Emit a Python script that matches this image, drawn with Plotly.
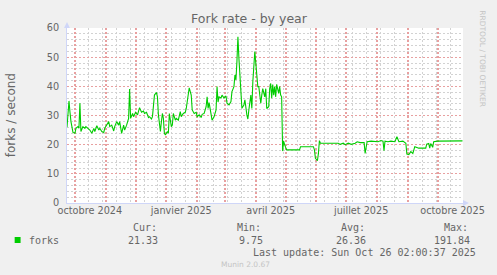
import datetime as dt
import plotly.graph_objects as go

# ---- data -------------------------------------------------------------
base_date = dt.datetime(2024, 9, 23)
range_start = "2024-09-23 00:00"
range_end = "2025-10-26 12:00"

day_offset = [
    0, 1, 2, 3, 4, 6, 8, 9, 11, 12, 13, 14, 16, 18, 19, 21, 23, 25, 27, 28,
    30, 32, 33, 35, 37, 38, 40, 42, 43, 45, 47, 48, 50, 52, 53, 55, 57, 58, 60, 62,
    63, 64, 66, 67, 69, 71, 73, 75, 77, 78, 80, 82, 83, 85, 86, 88, 90, 91, 92, 94,
    95, 96, 97, 98, 99, 101, 102, 103, 105, 106, 107, 109, 110, 112, 114, 115, 117, 119, 120, 122,
    123, 125, 126, 128, 130, 131, 133, 135, 136, 138, 140, 141, 142, 143, 145, 146, 148, 150, 151, 152,
    153, 155, 156, 158, 160, 161, 163, 165, 166, 168, 169, 170, 171, 172, 173, 174, 175, 176, 178, 179,
    181, 182, 183, 185, 186, 187, 189, 190, 191, 192, 193, 194, 195, 196, 197, 199, 200, 201, 203, 204,
    205, 206, 207, 208, 209, 210, 211, 213, 214, 215, 216, 217, 218, 219, 220, 221, 234, 235, 248, 249,
    250, 252, 253, 254, 255, 266, 268, 273, 275, 278, 280, 283, 286, 290, 292, 295, 299, 300, 302, 306,
    313, 316, 318, 319, 320, 323, 326, 330, 332, 334, 338, 341, 342, 344, 346, 348, 350, 352, 354, 361,
    362, 364, 365, 366, 368, 369, 372, 373, 398,
]
fork_rate = [
    26.0, 33.0, 35.0, 31.1, 27.9, 24.2, 23.9, 25.6, 26.2, 25.6, 34.2, 24.5, 26.2, 25.6, 26.2, 25.6, 25.0, 23.9, 25.6, 24.5,
    26.5, 25.0, 25.6, 24.5, 24.2, 25.6, 26.7, 27.9, 26.2, 26.7, 24.7, 26.2, 27.9, 26.7, 27.9, 23.9, 26.7, 25.0, 26.7, 29.0,
    39.1, 29.0, 30.7, 29.6, 31.1, 30.2, 32.7, 31.1, 31.5, 30.7, 31.1, 29.3, 29.6, 28.8, 29.6, 37.0, 37.9, 36.4, 30.2, 24.5,
    27.9, 30.7, 29.0, 23.9, 23.3, 24.5, 23.9, 30.7, 26.2, 26.7, 30.7, 28.4, 29.0, 28.4, 31.3, 29.6, 30.7, 31.1, 32.4, 37.0,
    39.5, 37.0, 31.9, 30.7, 31.1, 29.6, 30.2, 29.3, 30.4, 30.7, 33.0, 36.4, 32.4, 34.4, 29.6, 28.4, 29.6, 31.9, 39.9, 34.6,
    36.4, 36.0, 37.0, 36.0, 36.7, 34.2, 33.6, 34.8, 38.2, 39.9, 43.9, 42.2, 48.5, 57.0, 49.6, 42.7, 36.9, 32.5, 33.6, 35.4,
    30.2, 28.8, 31.9, 37.0, 32.4, 41.6, 51.9, 47.3, 43.9, 39.9, 39.9, 36.4, 34.2, 37.0, 39.2, 36.4, 39.2, 32.4, 33.0, 39.2,
    41.0, 35.9, 40.6, 37.0, 39.9, 36.4, 40.7, 37.6, 39.9, 37.0, 36.4, 17.8, 21.2, 20.0, 19.0, 18.2, 18.2, 19.3, 19.3, 18.2,
    15.3, 14.5, 17.0, 21.4, 20.5, 20.5, 20.7, 20.5, 20.1, 20.5, 20.0, 20.5, 20.1, 20.5, 21.0, 20.7, 20.7, 17.0, 21.0, 21.2,
    21.0, 21.4, 21.2, 17.9, 21.2, 21.0, 21.2, 21.0, 22.7, 21.0, 21.2, 20.5, 16.8, 16.6, 17.6, 17.0, 19.3, 19.1, 18.8, 18.8,
    20.2, 20.4, 18.8, 20.4, 19.1, 21.0, 21.0, 21.2, 21.3,
]

label_dates = ["2024-10-16", "2025-01-16", "2025-04-16", "2025-07-16", "2025-10-16"]
label_text = ["octobre 2024", "janvier 2025", "avril 2025", "juillet 2025", "octobre 2025"]

legend_stats = {"Cur:": "21.33", "Min:": "9.75", "Avg:": "26.36", "Max:": "191.84"}
last_update = "Last update: Sun Oct 26 02:00:37 2025"

# ---- figure -----------------------------------------------------------
W, H = 497, 275
L, R, T, B = 67, 29, 28, 72
PW, PH = W - L - R, H - T - B

def px(x):
    return (x - L) / PW

def py(y):
    return (H - B - y) / PH

dates = [base_date + dt.timedelta(days=d) for d in day_offset]

RED = "#E8A0A0"
GREY = "#D2D2D2"
AXIS = "#CFD6F8"
TXT = "#666666"
SANS = "DejaVu Sans, Verdana, sans-serif"
MONO = "DejaVu Sans Mono, monospace"
DASH = "2px,2px"

fig = go.Figure()
for ax in ("x2", "x3"):
    fig.add_trace(go.Scatter(x=[range_start, range_end], y=[None, None], mode="lines",
                             xaxis=ax, yaxis="y", hoverinfo="skip", showlegend=False))
fig.add_trace(go.Scatter(x=dates, y=fork_rate, mode="lines",
                         line=dict(color="#00CC00", width=1.1),
                         hoverinfo="skip", showlegend=False))

common_x = dict(type="date", range=[range_start, range_end], fixedrange=True,
                zeroline=False)
fig.update_layout(
    width=W, height=H,
    margin=dict(l=L, r=R, t=T, b=B, pad=0),
    paper_bgcolor="#F0F0F0", plot_bgcolor="white",
    showlegend=False,
    title=dict(text="Fork rate - by year", x=249 / W, y=1 - 19 / H,
               xanchor="center", yanchor="middle",
               font=dict(family=SANS, size=12.5, color=TXT)),
    xaxis=dict(**common_x, showticklabels=False, ticks="",
               showgrid=True, gridcolor=GREY, griddash=DASH, gridwidth=1,
               dtick=14 * 86400000, tick0="2024-10-14 12:00",
               showline=True, linecolor=AXIS, linewidth=1),
    xaxis2=dict(**common_x, overlaying="x", anchor="y", side="bottom",
                showticklabels=False, ticks="",
                showgrid=True, gridcolor=RED, griddash=DASH, gridwidth=1.5,
                dtick="M1", tick0="2024-10-01", showline=False),
    xaxis3=dict(**common_x, overlaying="x", anchor="y", side="bottom",
                tickvals=label_dates, ticktext=label_text, ticks="",
                showgrid=False, showline=False,
                tickfont=dict(family=SANS, size=9.7, color=TXT)),
    yaxis=dict(range=[0, 60], dtick=10, tick0=0, ticks="",
               showgrid=True, gridcolor=RED, griddash=DASH, gridwidth=1,
               minor=dict(dtick=2, showgrid=True, gridcolor=GREY, griddash=DASH, ticks=""),
               showline=True, linecolor=AXIS, linewidth=1,
               zeroline=False, ticklabelstandoff=5, fixedrange=True,
               tickfont=dict(family=SANS, size=9.7, color=TXT)),
)

ann = []
ann.append(dict(x=px(10.5), y=py(115), xref="paper", yref="paper",
                text="forks / second", textangle=-90, showarrow=False,
                xanchor="center", yanchor="middle",
                font=dict(family=SANS, size=12, color=TXT)))
ann.append(dict(x=px(488), y=py(59), xref="paper", yref="paper",
                text="RRDTOOL / TOBI OETIKER", textangle=90, showarrow=False,
                xanchor="center", yanchor="middle",
                font=dict(family=SANS, size=7.5, color="#C4C4C4")))
ann.append(dict(x=px(27), y=py(240), xref="paper", yref="paper", text="forks",
                showarrow=False, xanchor="left", yanchor="middle",
                font=dict(family=MONO, size=10, color=TXT)))
head_x = [132, 237, 342, 447]
val_right = [161, 267, 372, 477]
for (k, v), hx, vr in zip(legend_stats.items(), head_x, val_right):
    ann.append(dict(x=px(hx), y=py(227), xref="paper", yref="paper", text=k,
                    showarrow=False, xanchor="left", yanchor="middle",
                    font=dict(family=MONO, size=10, color=TXT)))
    ann.append(dict(x=px(vr), y=py(240), xref="paper", yref="paper", text=v,
                    showarrow=False, xanchor="right", yanchor="middle",
                    font=dict(family=MONO, size=10, color=TXT)))
ann.append(dict(x=px(483), y=py(252), xref="paper", yref="paper", text=last_update,
                showarrow=False, xanchor="right", yanchor="middle",
                font=dict(family=MONO, size=10, color=TXT)))
ann.append(dict(x=px(248), y=py(264), xref="paper", yref="paper", text="Munin 2.0.67",
                showarrow=False, xanchor="center", yanchor="middle",
                font=dict(family=SANS, size=7.5, color="#C4C4C4")))
fig.update_layout(annotations=ann)

fig.add_shape(type="rect", xref="paper", yref="paper",
              x0=px(14), x1=px(20), y0=py(243), y1=py(237),
              fillcolor="#00CC00", line=dict(width=0))
fig.add_shape(type="path", xref="paper", yref="paper",
              path=f"M {px(64)} {py(28)} L {px(70)} {py(28)} L {px(67)} {py(22)} Z",
              fillcolor=AXIS, line=dict(width=0))
fig.add_shape(type="path", xref="paper", yref="paper",
              path=f"M {px(468)} {py(200)} L {px(468)} {py(206)} L {px(474)} {py(203)} Z",
              fillcolor=AXIS, line=dict(width=0))

crisp_js = """
function crispGrid(){
  document.querySelectorAll('.gridlayer path, .minor-gridlayer path').forEach(function(p){
    p.style.shapeRendering = 'crispEdges';
  });
}
crispGrid(); setTimeout(crispGrid, 0); setTimeout(crispGrid, 200);
"""
fig.write_html("out.html", post_script=crisp_js)
